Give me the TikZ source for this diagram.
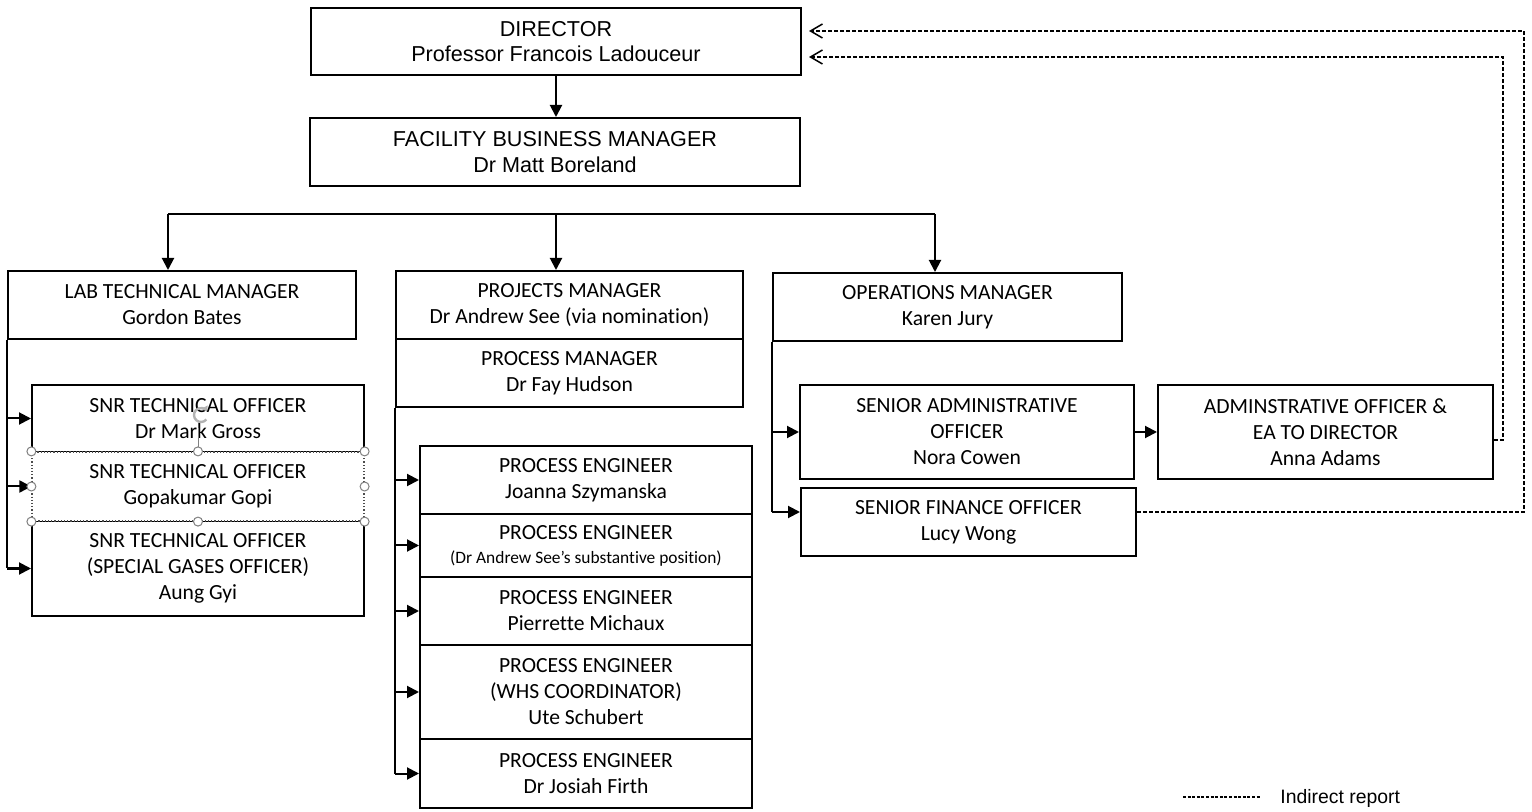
\documentclass[tikz,border=0pt]{standalone}
\usepackage{fontspec}
\setmainfont{Carlito}[Ligatures=NoCommon]
\newfontfamily\arialfont{Liberation Sans}
\usetikzlibrary{arrows.meta}

\tikzset{
  orgbox/.style={draw, line width=1pt, align=center, inner sep=0pt, font=\fontsize{10.8}{13}\selectfont},
  topbox/.style={orgbox, font=\arialfont\fontsize{10.8}{12.8}\selectfont},
  link/.style={line width=1pt},
  arr/.style={line width=1pt, -{Triangle[length=6pt,width=6pt]}},
  indirect/.style={line width=0.75pt, dash pattern=on 2pt off 1pt, -{Straight Barb[length=6pt,width=7pt]}},
  handle/.style={circle, draw=gray, fill=white, line width=0.5pt, inner sep=0pt, minimum size=4.5pt},
}

\begin{document}
\begin{tikzpicture}[x=0.5pt,y=0.5pt,yscale=-1]
\useasboundingbox (0,0) rectangle (1532,812);

%Top boxes
\node[topbox, minimum width=245pt, minimum height=33.5pt] (dir) at (556,41.5) {DIRECTOR\\Professor Francois Ladouceur};
\node[topbox, minimum width=245pt, minimum height=34pt] (fbm) at (555,152) {FACILITY BUSINESS MANAGER\\Dr Matt Boreland};

%Managers
\node[orgbox, minimum width=174pt, minimum height=34pt] (ltm) at (182,305) {LAB TECHNICAL MANAGER\\Gordon Bates};
\node[orgbox, minimum width=173.5pt, minimum height=34pt] (pm) at (569.5,305) {PROJECTS MANAGER\\Dr Andrew See (via nomination)};
\node[orgbox, minimum width=173.5pt, minimum height=34pt] (pmgr) at (569.5,373) {PROCESS MANAGER\\Dr Fay Hudson};
\node[orgbox, minimum width=174.5pt, minimum height=34pt] (om) at (947.5,307) {OPERATIONS MANAGER\\Karen Jury};

%Technical officers
\node[orgbox, minimum width=166pt, minimum height=33.5pt] (sto1) at (198,418.5) {SNR TECHNICAL OFFICER\\Dr Mark Gross};
\node[orgbox, minimum width=166pt, minimum height=47.5pt] (sto3) at (198,568.5) {SNR TECHNICAL OFFICER\\(SPECIAL GASES OFFICER)\\Aung Gyi};
\node[orgbox, fill=white, draw=black!70, line width=0.6pt, densely dotted, minimum width=166pt, minimum height=34.5pt] (sto2) at (198,486.5) {SNR TECHNICAL OFFICER\\Gopakumar Gopi};

%Process engineers
\node[orgbox, minimum width=166pt, minimum height=34pt] (pe1) at (586,480) {PROCESS ENGINEER\\Joanna Szymanska};
\node[orgbox, minimum width=166pt, minimum height=31.5pt] (pe2) at (586,545.5) {PROCESS ENGINEER\\[-1pt]{\fontsize{8.7}{10}\selectfont(Dr Andrew See’s substantive position)}};
\node[orgbox, minimum width=166pt, minimum height=34pt] (pe3) at (586,611) {PROCESS ENGINEER\\Pierrette Michaux};
\node[orgbox, minimum width=166pt, minimum height=47pt] (pe4) at (586,692) {PROCESS ENGINEER\\(WHS COORDINATOR)\\Ute Schubert};
\node[orgbox, minimum width=166pt, minimum height=34.5pt] (pe5) at (586,773.5) {PROCESS ENGINEER\\Dr Josiah Firth};

%Operations staff
\node[orgbox, minimum width=167pt, minimum height=47pt] (sao) at (967,432) {SENIOR ADMINISTRATIVE\\OFFICER\\Nora Cowen};
\node[orgbox, minimum width=167.5pt, minimum height=47pt] (ao) at (1325.5,432) {ADMINSTRATIVE OFFICER \&\\EA TO DIRECTOR\\Anna Adams};
\node[orgbox, minimum width=167.5pt, minimum height=34pt] (sfo) at (968.5,522) {SENIOR FINANCE OFFICER\\Lucy Wong};

%Direct lines
\draw[arr] (dir.south) -- (dir.south |- fbm.north);
\coordinate (busL) at (168,214);
\coordinate (busM) at (556,214);
\coordinate (busR) at (935,214);
\draw[link] (busL) -- (busR);
\draw[arr] (busL) -- (busL |- ltm.north);
\draw[arr] (busM) -- (busM |- pm.north);
\draw[arr] (busR) -- (busR |- om.north);

\draw[link] (ltm.south west) -- (ltm.south west |- sto3.west);
\foreach \n in {sto1,sto2,sto3}
  \draw[arr] (ltm.south west |- \n.west) -- (\n.west);

\draw[link] (pmgr.south west) -- (pmgr.south west |- pe5.west);
\foreach \n in {pe1,pe2,pe3,pe4,pe5}
  \draw[arr] (pmgr.south west |- \n.west) -- (\n.west);

\coordinate (sfoIn) at ([yshift=-5pt]sfo.west);
\coordinate (sfoOut) at ([yshift=-5pt]sfo.east);
\coordinate (aoOut) at ([yshift=4pt]ao.east);
\draw[link] (om.south west) -- (om.south west |- sfoIn);
\draw[arr] (om.south west |- sao.west) -- (sao.west);
\draw[arr] (om.south west |- sfoIn) -- (sfoIn);
\draw[arr] (sao.east) -- (ao.west);

%Indirect lines
\coordinate (ret1) at (1503,57);
\coordinate (ret2) at (1524,31);
\draw[indirect] (aoOut) -| (ret1) -- ([xshift=3.5pt]dir.east |- ret1);
\draw[indirect] (sfoOut) -| (ret2) -- ([xshift=3.5pt]dir.east |- ret2);

%Selection handles
\draw[gray, line width=0.5pt] (sto2.north) -- (198,428);
\coordinate (rot) at (201,415);
\draw[gray!60, line width=1.2pt, -{Triangle[length=2.5pt,width=3.5pt]}] ([shift={(40:7)}]rot) arc (40:330:7);
\foreach \a/\k in {north west/1,north/2,north east/3,west/4,east/5,south west/6,south/7,south east/8}
  \node[handle] (hd\k) at (sto2.\a) {};

%Legend
\coordinate (lgA) at (1183,797);
\coordinate (lgB) at (1260,797);
\draw[line width=0.6pt, dash pattern=on 1.5pt off 0.8pt] (lgA) -- (lgB);
\node[anchor=west, inner sep=0pt, font=\arialfont\fontsize{9.7}{12}\selectfont] (lgtxt) at (1280,798) {Indirect report};
\end{tikzpicture}
\end{document}
